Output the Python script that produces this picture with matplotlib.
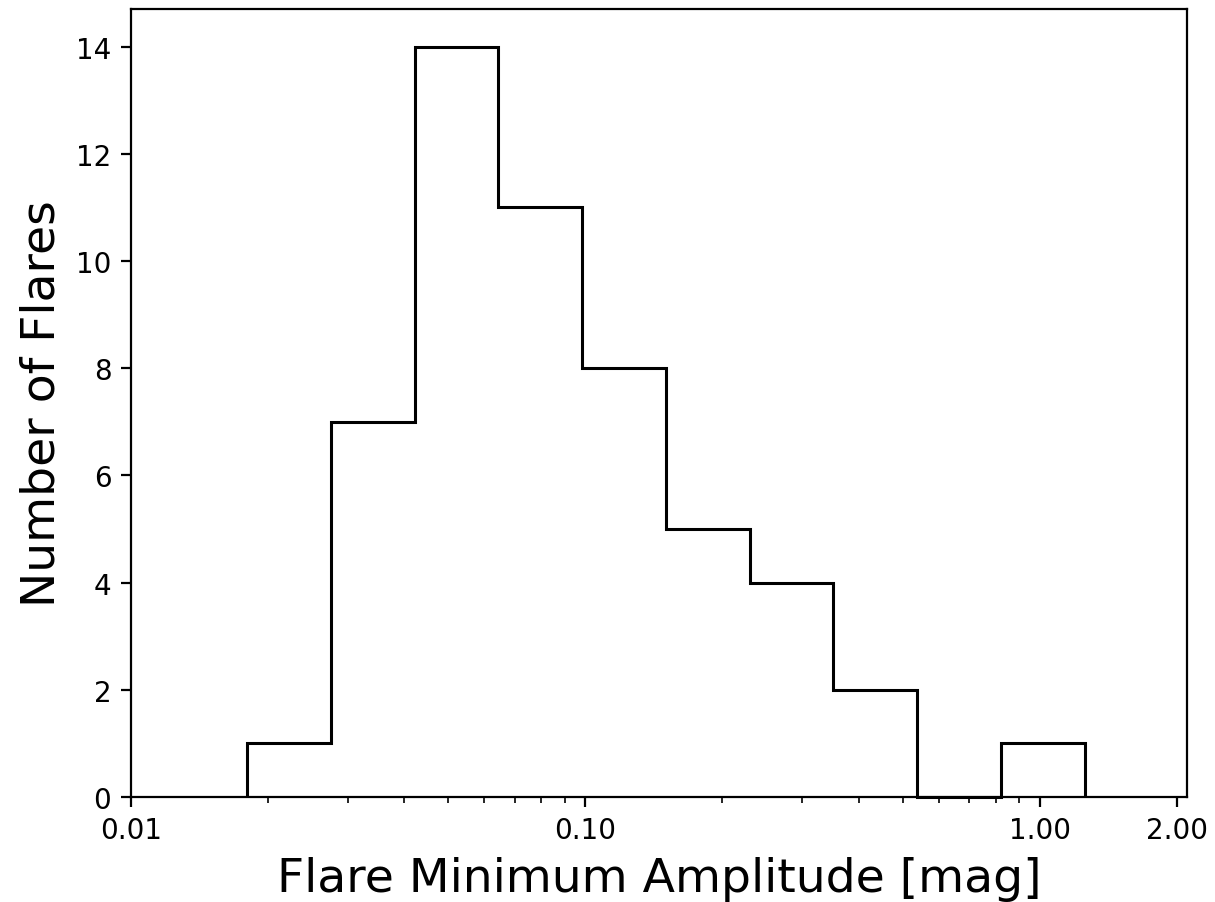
import numpy as np
import matplotlib.pyplot as plt
from matplotlib.ticker import FixedLocator, FixedFormatter

# bin edges [mag] (log spaced) and flare counts per bin
bin_edges = [0.01803, 0.02756, 0.04212, 0.06438, 0.0984, 0.1504,
             0.2299, 0.3514, 0.5371, 0.821, 1.255]
counts = [1, 7, 14, 11, 8, 5, 4, 2, 0, 1]

xtick_vals = [0.01, 0.1, 1.0, 2.0]
xtick_labels = ['0.01', '0.10', '1.00', '2.00']

fig = plt.figure(figsize=(1215 / 200, 903 / 200), dpi=200)
ax = fig.add_axes([0.1076, 0.1163, 0.8696, 0.8726])

centers = np.sqrt(np.array(bin_edges[:-1]) * np.array(bin_edges[1:]))
_, _, patches = ax.hist(centers, bins=bin_edges, weights=counts,
                        histtype='step', color='black', linewidth=1.1)
for p in patches:
    p.set_clip_on(False)
    p.set_zorder(3)

ax.set_xscale('log')
ax.set_xlim(0.01, 2.11)
ax.xaxis.set_major_locator(FixedLocator(xtick_vals))
ax.xaxis.set_major_formatter(FixedFormatter(xtick_labels))
ax.tick_params(labelsize=10)

ax.set_xlabel('Flare Minimum Amplitude [mag]', fontsize=17)
ax.set_ylabel('Number of Flares', fontsize=17)

fig.savefig('out.png', dpi=200)
